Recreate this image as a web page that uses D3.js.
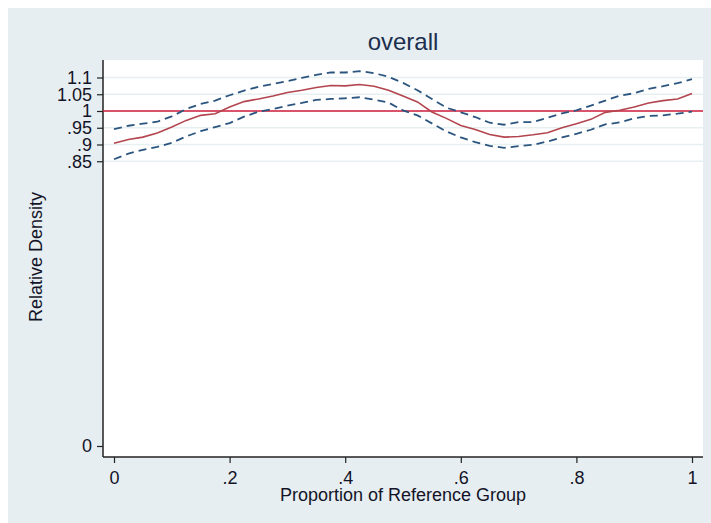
<!DOCTYPE html>
<html>
<head>
<meta charset="utf-8">
<script src="https://cdn.jsdelivr.net/npm/d3@7"></script>
<style>
  html, body { margin: 0; padding: 0; background: #ffffff; }
  svg { display: block; font-family: "Liberation Sans", Arial, sans-serif; }
</style>
</head>
<body>
<svg id="chart" width="711" height="523"></svg>
<script>
const titleText = "overall";
const xLabel = "Proportion of Reference Group";
const yLabel = "Relative Density";
const xTicks = [0, 0.2, 0.4, 0.6, 0.8, 1];
const xTickLabels = ["0", ".2", ".4", ".6", ".8", "1"];
const yTicks = [0, 0.85, 0.9, 0.95, 1, 1.05, 1.1];
const yTickLabels = ["0", ".85", ".9", ".95", "1", "1.05", "1.1"];
const refLine = 1;

const proportion = [0, 0.025, 0.05, 0.075, 0.1, 0.125, 0.15, 0.175, 0.2, 0.225, 0.25, 0.275, 0.3, 0.325, 0.35, 0.375, 0.4, 0.425, 0.45, 0.475, 0.5, 0.525, 0.55, 0.575, 0.6, 0.625, 0.65, 0.675, 0.7, 0.725, 0.75, 0.775, 0.8, 0.825, 0.85, 0.875, 0.9, 0.925, 0.95, 0.975, 1];
const density = [0.904, 0.915, 0.922, 0.934, 0.952, 0.972, 0.987, 0.992, 1.012, 1.028, 1.036, 1.045, 1.055, 1.062, 1.070, 1.076, 1.075, 1.079, 1.074, 1.062, 1.045, 1.027, 0.997, 0.978, 0.957, 0.945, 0.930, 0.922, 0.924, 0.929, 0.935, 0.950, 0.962, 0.975, 0.996, 1.002, 1.012, 1.024, 1.031, 1.036, 1.052];
const upperCI = [0.946, 0.956, 0.962, 0.968, 0.984, 1.006, 1.021, 1.031, 1.047, 1.061, 1.072, 1.081, 1.089, 1.099, 1.108, 1.115, 1.115, 1.119, 1.113, 1.102, 1.084, 1.062, 1.036, 1.010, 0.996, 0.982, 0.965, 0.959, 0.967, 0.967, 0.980, 0.993, 1.002, 1.016, 1.031, 1.046, 1.053, 1.066, 1.074, 1.083, 1.095];
const lowerCI = [0.856, 0.873, 0.884, 0.893, 0.905, 0.924, 0.940, 0.952, 0.964, 0.983, 0.998, 1.006, 1.016, 1.024, 1.033, 1.036, 1.038, 1.041, 1.034, 1.025, 1.002, 0.987, 0.963, 0.939, 0.921, 0.907, 0.896, 0.890, 0.895, 0.899, 0.909, 0.921, 0.932, 0.944, 0.960, 0.966, 0.978, 0.985, 0.987, 0.992, 0.998];

const svg = d3.select("#chart");
const W = 711, H = 523;
const plot = { left: 103, right: 703, top: 60, bottom: 457 };
const font = "Liberation Sans, Arial, sans-serif";

// graph region background
svg.append("rect").attr("x", 8).attr("y", 8).attr("width", W - 8).attr("height", H - 8)
  .attr("fill", "#e6eef1");
// plot region
svg.append("rect").attr("x", plot.left).attr("y", plot.top)
  .attr("width", plot.right - plot.left).attr("height", plot.bottom - plot.top)
  .attr("fill", "#ffffff");

const x = d3.scaleLinear().domain([0, 1]).range([114, 692]);
const y = d3.scaleLinear().domain([0, 1]).range([446, 111]);

// gridlines
svg.append("g").selectAll("line").data(yTicks.filter(d => d > 0)).join("line")
  .attr("x1", plot.left).attr("x2", plot.right)
  .attr("y1", d => y(d)).attr("y2", d => y(d))
  .attr("stroke", "#e7f0f1").attr("stroke-width", 1.5);

// axes
const yAxis = d3.axisLeft(y).tickValues(yTicks)
  .tickFormat((d, i) => yTickLabels[i]).tickSize(6).tickPadding(5);
const gy = svg.append("g").attr("transform", `translate(${plot.left},0)`).call(yAxis);
gy.select(".domain").attr("d", `M0,${plot.top}V${plot.bottom}`).attr("stroke", "#222").attr("stroke-width", 1.5);
gy.selectAll(".tick line").attr("stroke", "#222").attr("stroke-width", 1.2);
gy.selectAll(".tick text").attr("font-size", 18).attr("fill", "#141428")
  .attr("font-family", font);

const xAxis = d3.axisBottom(x).tickValues(xTicks)
  .tickFormat((d, i) => xTickLabels[i]).tickSize(6).tickPadding(8);
const gx = svg.append("g").attr("transform", `translate(0,${plot.bottom})`).call(xAxis);
gx.select(".domain").attr("d", `M${plot.left},0H${plot.right}`).attr("stroke", "#222").attr("stroke-width", 1.5);
gx.selectAll(".tick line").attr("stroke", "#222").attr("stroke-width", 1.2);
gx.selectAll(".tick text").attr("font-size", 18).attr("fill", "#141428")
  .attr("font-family", font);

// reference line
svg.append("line").attr("x1", plot.left).attr("x2", plot.right)
  .attr("y1", y(refLine)).attr("y2", y(refLine))
  .attr("stroke", "#d21e3c").attr("stroke-width", 1.6);

const line = (vals) => d3.line().x((d, i) => x(proportion[i])).y(d => y(d))(vals);

svg.append("path").attr("d", line(upperCI)).attr("fill", "none")
  .attr("stroke", "#2b557e").attr("stroke-width", 1.8).attr("stroke-dasharray", "8,5");
svg.append("path").attr("d", line(lowerCI)).attr("fill", "none")
  .attr("stroke", "#2b557e").attr("stroke-width", 1.8).attr("stroke-dasharray", "8,5");
svg.append("path").attr("d", line(density)).attr("fill", "none")
  .attr("stroke", "#b3454f").attr("stroke-width", 1.6);

// title
svg.append("text").attr("x", (plot.left + plot.right) / 2).attr("y", 50)
  .attr("text-anchor", "middle").attr("font-size", 24).attr("fill", "#1c2f4e")
  .attr("font-family", font).text(titleText);
// axis titles
svg.append("text").attr("x", (plot.left + plot.right) / 2).attr("y", 501)
  .attr("text-anchor", "middle").attr("font-size", 18).attr("fill", "#141428")
  .attr("font-family", font).text(xLabel);
svg.append("text").attr("transform", `translate(42,257) rotate(-90)`)
  .attr("text-anchor", "middle").attr("font-size", 18).attr("fill", "#141428")
  .attr("font-family", font).text(yLabel);
</script>
</body>
</html>
